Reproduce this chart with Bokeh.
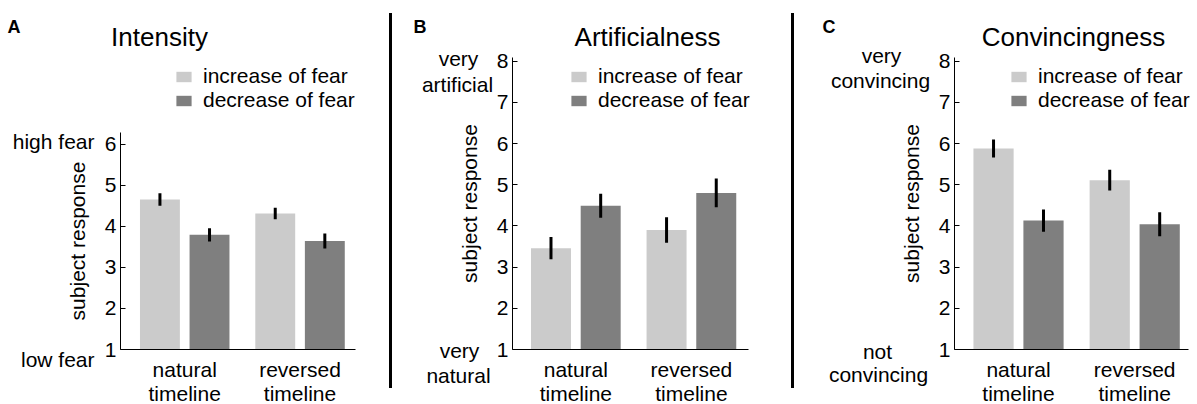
from bokeh.plotting import figure
from bokeh.layouts import row
from bokeh.models import (ColumnDataSource, Legend, LegendItem, Label, FixedTicker,
                          Range1d, LinearAxis, Div)
from bokeh.embed import file_html
from bokeh.resources import INLINE

# ---------------- data ----------------
groups = ["natural\ntimeline", "reversed\ntimeline"]
series = ["increase of fear", "decrease of fear"]
colors = ["#cbcbcb", "#7f7f7f"]

int_inc = [4.65, 4.31]
int_inc_err = [0.15, 0.14]
int_dec = [3.79, 3.64]
int_dec_err = [0.16, 0.18]

art_inc = [3.46, 3.90]
art_inc_err = [0.27, 0.31]
art_dec = [4.49, 4.80]
art_dec_err = [0.29, 0.35]

con_inc = [5.88, 5.11]
con_inc_err = [0.22, 0.25]
con_dec = [4.13, 4.04]
con_dec_err = [0.27, 0.29]

FONT = "Liberation Sans"
H = 404
SHIFT = 1    # reference y -> figure y
BASE = 350   # reference y of value 1


def make_panel(cfg, inc, inc_err, dec, dec_err):
    xs, xe = cfg["xr"]
    ye = cfg["ye"]
    w = cfg["w"]
    fl = cfg["frame_left"] - cfg["origin"]
    kx = cfg["frame_w"] / (xe - xs)
    ky = cfg["ky"]
    yb = BASE - SHIFT
    x_range = Range1d(xs - fl / kx, xs + (w - fl) / kx)
    y_range = Range1d(1 - (H - yb) / ky, 1 + yb / ky)

    p = figure(width=w, height=H, x_range=x_range, y_range=y_range,
               output_backend="svg", toolbar_location=None,
               x_axis_location=None, y_axis_location=None,
               min_border_left=0, min_border_right=0,
               min_border_top=0, min_border_bottom=0,
               outline_line_color=None, background_fill_color="white",
               border_fill_color="white")
    p.grid.visible = False

    def X(wx):
        return xs + (wx - cfg["frame_left"]) / kx

    def Y(wy):
        return 1 + (BASE - wy) / ky

    off = 0.215
    bw = 0.346
    rends = []
    for vals, errs, sgn, col in ((inc, inc_err, -1, colors[0]), (dec, dec_err, 1, colors[1])):
        xpos = [i + 1 + sgn * off for i in range(len(vals))]
        src = ColumnDataSource(dict(
            x=xpos, top=vals,
            lo=[v - e for v, e in zip(vals, errs)],
            hi=[v + e for v, e in zip(vals, errs)]))
        r = p.vbar(x="x", top="top", bottom=1, width=bw, source=src,
                   fill_color=col, line_color=None)
        p.segment(x0="x", x1="x", y0="lo", y1="hi", source=src,
                  line_color="black", line_width=3)
        rends.append(r)

    # axes
    xa = LinearAxis(fixed_location=1, bounds=(xs, xe),
                    ticker=FixedTicker(ticks=[1, 2]),
                    major_label_overrides={1: groups[0], 2: groups[1]},
                    major_tick_in=0, major_tick_out=0,
                    minor_tick_in=0, minor_tick_out=0,
                    major_label_text_font=FONT, major_label_text_font_size="21px",
                    major_label_text_color="black", major_label_standoff=8,
                    major_label_text_line_height=1.08,
                    axis_line_color="black")
    p.add_layout(xa, "below")

    ya = LinearAxis(fixed_location=xs, bounds=(1, ye),
                    ticker=FixedTicker(ticks=list(range(1, int(ye) + 1))),
                    major_tick_in=5, major_tick_out=0,
                    minor_tick_in=0, minor_tick_out=0,
                    major_tick_line_color="black",
                    major_label_text_font=FONT, major_label_text_font_size="21px",
                    major_label_text_color="black", major_label_standoff=4,
                    axis_label="subject response",
                    axis_label_text_font=FONT, axis_label_text_font_size="21px",
                    axis_label_text_font_style="normal",
                    axis_label_text_color="black", axis_label_standoff=13,
                    axis_line_color="black")
    p.add_layout(ya, "left")

    # legend
    leg = Legend(items=[LegendItem(label=series[0], renderers=[rends[0]]),
                        LegendItem(label=series[1], renderers=[rends[1]])],
                 location=(cfg["legend_left"] - cfg["origin"], H - (113 - SHIFT)),
                 glyph_width=19, glyph_height=13, label_height=24,
                 label_standoff=10, spacing=0, padding=0, margin=0,
                 border_line_color=None, background_fill_alpha=0,
                 label_text_font=FONT, label_text_font_size="21px",
                 label_text_color="black")
    p.add_layout(leg)

    def lab(text, wx, wy, align="center", size="21px", style="normal"):
        p.add_layout(Label(x=X(wx), y=Y(wy), text=text, text_font=FONT,
                           text_font_size=size, text_font_style=style,
                           text_align=align, text_baseline="alphabetic",
                           text_color="black"))

    lab(cfg["letter"], cfg["letter_x"], 27, align="left", size="18px", style="bold")
    lab(cfg["title"], cfg["title_x"], 37, size="26px")
    for text, wx, wy, align in cfg["side"]:
        lab(text, wx, wy, align=align)
    return p


cfgA = dict(origin=0, w=389, frame_left=120, frame_w=235, ky=41.1,
            xr=(0.443, 2.481), ye=6.28, legend_left=174,
            letter="A", letter_x=7, title="Intensity", title_x=159,
            side=[("high fear", 94, 142, "right"), ("low fear", 94, 360, "right")])
cfgB = dict(origin=392, w=399, frame_left=512, frame_w=236, ky=41.2,
            xr=(0.452, 2.494), ye=8.087, legend_left=569,
            letter="B", letter_x=413, title="Artificialness", title_x=647,
            side=[("very", 458, 59, "center"), ("artificial", 457, 85, "center"),
                  ("very", 459, 351, "center"), ("natural", 458, 376, "center")])
cfgC = dict(origin=794, w=403, frame_left=954, frame_w=234, ky=41.2,
            xr=(0.449, 2.463), ye=8.087, legend_left=1009,
            letter="C", letter_x=822, title="Convincingness", title_x=1073,
            side=[("very", 881, 56, "center"), ("convincing", 880, 81, "center"),
                  ("not", 877, 352, "center"), ("convincing", 878, 375, "center")])

pA = make_panel(cfgA, int_inc, int_inc_err, int_dec, int_dec_err)
pB = make_panel(cfgB, art_inc, art_inc_err, art_dec, art_dec_err)
pC = make_panel(cfgC, con_inc, con_inc_err, con_dec, con_dec_err)


def separator():
    return Div(text="", width=3, height=375, margin=(13, 0, 16, 0),
               styles={"background-color": "black"})


layout = row(pA, separator(), pB, separator(), pC, spacing=0)
open("out.html", "w").write(file_html(layout, INLINE))
